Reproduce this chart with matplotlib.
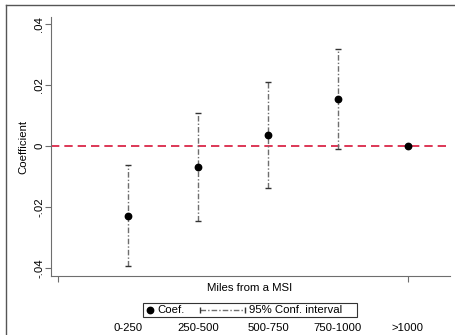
import numpy as np
import matplotlib.pyplot as plt
from matplotlib.lines import Line2D
from matplotlib.patches import Rectangle
import matplotlib.transforms as mtransforms

plt.rcParams['font.family'] = ['Liberation Sans', 'DejaVu Sans']

categories = ['0-250', '250-500', '500-750', '750-1000', '>1000']
coef = [-0.0228, -0.0068, 0.0035, 0.0155, 0.0]
ci_low = [-0.0392, -0.0246, -0.0139, -0.0009, np.nan]
ci_high = [-0.0062, 0.0108, 0.0211, 0.0318, np.nan]
yticks = [-0.04, -0.02, 0, 0.02, 0.04]
yticklabels = ['-.04', '-.02', '0', '.02', '.04']

W, H = 456, 335
fs = 8.2
fig = plt.figure(figsize=(W / 100, H / 100), dpi=100)
ax = fig.add_axes([51 / W, 1 - 276 / H, (450 - 51) / W, (276 - 17) / H])

xpos = np.arange(1, len(categories) + 1)
gray = '#6e6e6e'
ci_dash = (4, 1.5, 1, 1.5)

# confidence intervals (dash-dot gray with flat caps)
for x, lo, hi in zip(xpos, ci_low, ci_high):
    if np.isnan(lo):
        continue
    ax.plot([x, x], [lo, hi], color=gray, lw=1, dashes=ci_dash, zorder=2)
    ax.plot([x, x], [lo, hi], ls='none', marker='_', ms=4, mew=1, color='#333333', zorder=2)

ax.axhline(0, color='#d7153a', lw=1.2, dashes=(5, 3), zorder=1)
ax.plot(xpos, coef, 'o', color='black', ms=4.6, zorder=3)

ax.set_xlim(-0.1, 5.6)
ax.set_ylim(-0.0426, 0.0423)
ax.set_xticks([0, 5])
ax.set_xticklabels([])
ax.set_yticks(yticks)
ax.set_yticklabels(yticklabels)
ax.tick_params(axis='y', labelrotation=90, length=4.3, width=0.8, color=gray, labelsize=fs, pad=0.5)
ax.tick_params(axis='x', length=4, width=0.8, color=gray)
for lab in ax.get_yticklabels():
    lab.set_va('center')
for s in ['top', 'right']:
    ax.spines[s].set_visible(False)
for s in ['left', 'bottom']:
    ax.spines[s].set_color(gray)
    ax.spines[s].set_linewidth(0.8)

ax.set_ylabel('Coefficient', fontsize=fs, labelpad=4)
fig.text(249.5 / W, 1 - 288 / H, 'Miles from a MSI', ha='center', va='center', fontsize=fs)

# category names under the legend
trans = mtransforms.blended_transform_factory(ax.transData, fig.transFigure)
for x, name in zip(xpos, categories):
    ax.text(x, 1 - 328 / H, name, transform=trans, ha='center', va='center', fontsize=fs, clip_on=False)

# legend drawn by hand in pixel coordinates
def px(x, y):
    return x / W, 1 - y / H

ly = 310
fig.add_artist(Rectangle(px(143, 317), 214 / W, 14 / H, fill=False, ec='#333333', lw=0.8))
fig.add_artist(Line2D(*zip(px(150, ly)), ls='none', marker='o', color='black', ms=4.6))
fig.text(*px(157, ly), 'Coef.', ha='left', va='center', fontsize=fs)
fig.add_artist(Line2D(*zip(px(200, ly), px(245, ly)), color=gray, lw=1, dashes=ci_dash,
                      marker='|', ms=4, mec='#333333'))
fig.text(*px(249, ly), '95% Conf. interval', ha='left', va='center', fontsize=fs)

# outer frame
fig.add_artist(Line2D([6 / W, 6 / W], [0, 1 - 5 / H], color='#555555', lw=1))
fig.add_artist(Line2D([6 / W, 1], [1 - 5 / H, 1 - 5 / H], color='#555555', lw=1))

fig.savefig('out.png', dpi=100)
